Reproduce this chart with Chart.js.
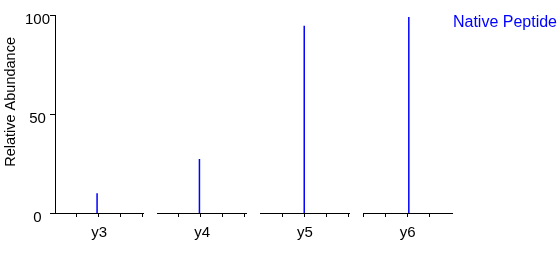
<!DOCTYPE html>
<html>
<head>
<meta charset="utf-8">
<script src="https://cdn.jsdelivr.net/npm/chart.js@4.4.1/dist/chart.umd.min.js"></script>
<style>
  html, body { margin: 0; padding: 0; background: #ffffff; }
  #wrap { width: 559px; height: 262px; }
</style>
</head>
<body>
<div id="wrap"><canvas id="c" width="559" height="262"></canvas></div>
<script>
// ---- data ----
const ionLabels   = ['y3', 'y4', 'y5', 'y6'];
const intensities = [10, 27.3, 94.6, 99];
const peakMz      = [363.95, 476.95, 590.0, 703.05];
const windowMin   = [362.05, 475.07, 588.03, 701.0];
const windowMax   = [366.05, 479.07, 592.03, 705.0];
const tickMz      = [[363, 364, 365, 366], [476, 477, 478, 479], [589, 590, 591, 592], [701, 702, 703, 704]];
const yTicks      = [0, 50, 100];
const seriesName  = 'Native Peptide';

const FONT = '"Liberation Sans", Arial, sans-serif';
const BLUE = '#0000ff';

const scales = {};
ionLabels.forEach((lab, i) => {
  scales['x' + i] = {
    type: 'linear',
    position: 'bottom',
    stack: 'panels',
    stackWeight: 88.5,
    min: windowMin[i],
    max: windowMax[i],
    afterBuildTicks: s => { s.ticks = tickMz[i].map(v => ({ value: v })); },
    grid: { display: true, drawOnChartArea: false, drawTicks: true, tickLength: 4, color: '#000', lineWidth: 1 },
    border: { display: true, color: '#000', width: 1 },
    ticks: { display: false },
    title: { display: true, text: lab, color: '#000', font: { family: FONT, size: 15 }, padding: { top: 7, bottom: 4 } }
  };
  if (i < ionLabels.length - 1) {
    scales['gap' + i] = {
      type: 'linear', position: 'bottom', stack: 'panels', stackWeight: 14.2,
      min: 0, max: 1,
      grid: { display: false }, border: { display: false }, ticks: { display: false }
    };
  }
});
scales.y = {
  type: 'linear',
  position: 'left',
  min: 0, max: 100,
  afterBuildTicks: s => { s.ticks = yTicks.map(v => ({ value: v })); },
  afterFit: s => { s.width = 55; },
  grid: { display: true, drawOnChartArea: false, drawTicks: true, tickLength: 5, color: '#000', lineWidth: 1 },
  border: { display: true, color: '#000', width: 1 },
  ticks: { color: '#000', font: { family: FONT, size: 15 }, crossAlign: 'center', padding: 0, labelOffset: 5 },
  title: { display: true, text: '      Relative Abundance', color: '#000', font: { family: FONT, size: 14.5 }, padding: { top: 2, bottom: 0 } }
};

const datasets = ionLabels.map((lab, i) => ({
  label: i === 0 ? seriesName : seriesName + ' ' + lab,
  data: [{ x: peakMz[i], y: 0 }, { x: peakMz[i], y: intensities[i] }],
  xAxisID: 'x' + i,
  yAxisID: 'y',
  showLine: true,
  borderColor: BLUE,
  backgroundColor: BLUE,
  borderWidth: 1.5,
  pointRadius: 0,
  fill: false
}));

new Chart(document.getElementById('c'), {
  type: 'scatter',
  data: { datasets },
  options: {
    responsive: false,
    animation: false,
    layout: { padding: { top: 15, left: 0, right: 2, bottom: 16 } },
    scales,
    plugins: {
      tooltip: { enabled: false },
      legend: {
        display: true,
        position: 'right',
        align: 'start',
        maxWidth: 105,
        labels: {
          boxWidth: 0,
          boxHeight: 0,
          padding: 0,
          color: BLUE,
          textAlign: 'right',
          font: { family: FONT, size: 16 },
          generateLabels: () => [{
            text: seriesName, fillStyle: 'rgba(0,0,0,0)', strokeStyle: 'rgba(0,0,0,0)',
            lineWidth: 0, fontColor: BLUE, hidden: false, datasetIndex: 0
          }]
        }
      }
    }
  }
});
</script>
</body>
</html>
